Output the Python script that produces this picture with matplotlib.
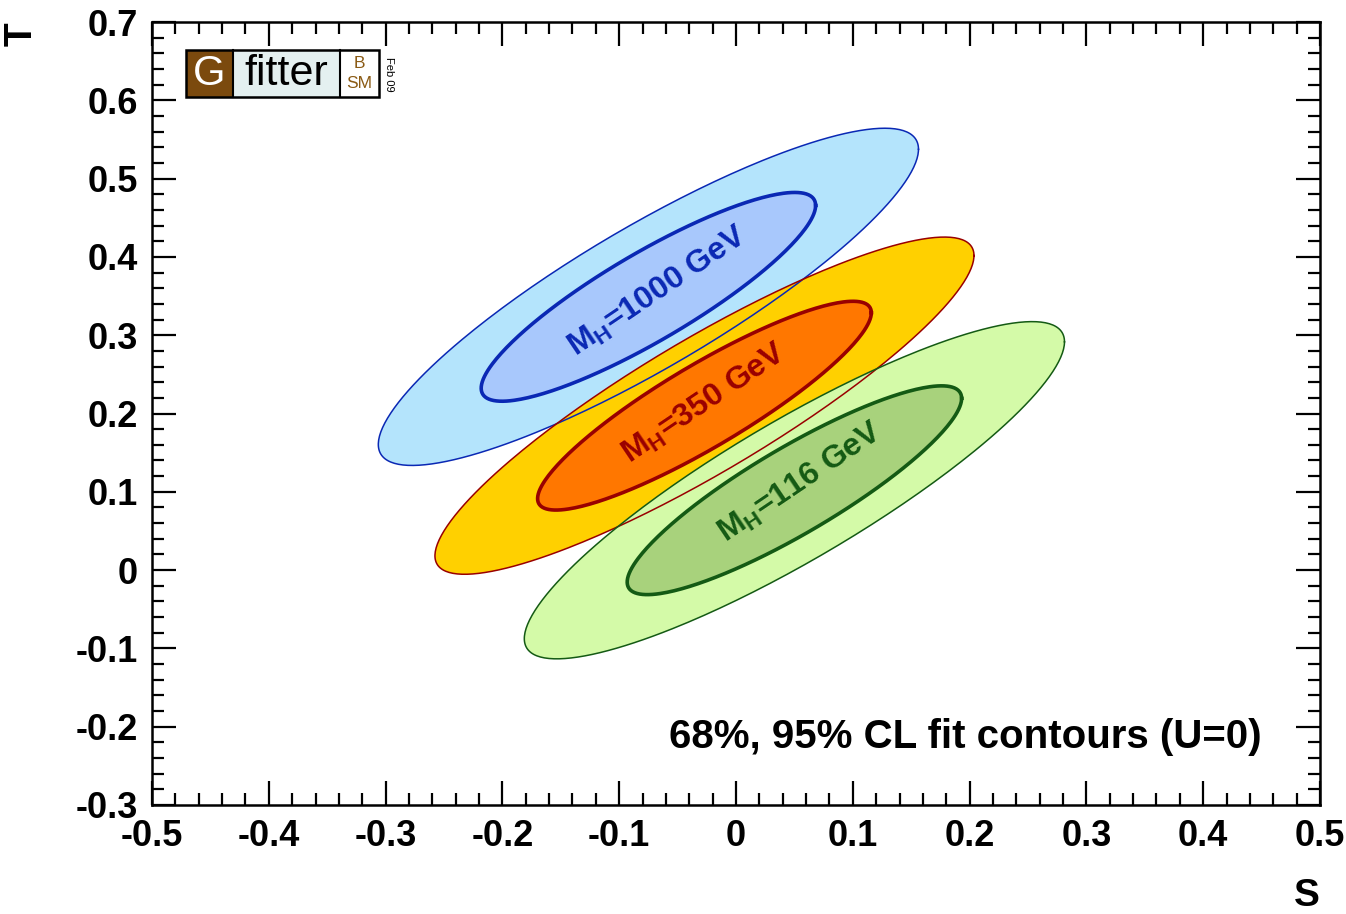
import numpy as np
import matplotlib
matplotlib.use("Agg")
import matplotlib.pyplot as plt
from matplotlib.patches import Rectangle
from matplotlib.ticker import MultipleLocator

plt.rcParams['font.family'] = ['Liberation Sans', 'DejaVu Sans']
plt.rcParams['mathtext.fontset'] = 'custom'
plt.rcParams['mathtext.rm'] = 'Liberation Sans:bold'
plt.rcParams['mathtext.bf'] = 'Liberation Sans:bold'

# fit results per Higgs mass (centre, widths, correlation of S and T)
mh_vals = [1000, 350, 116]
s_centre = [-0.075, -0.027, 0.050]
t_centre = [0.349, 0.210, 0.102]
sig_s = [0.0945, 0.0943, 0.0945]
sig_t = [0.0880, 0.0880, 0.0880]
rho = [0.875, 0.89, 0.88]

# chi2 quantiles, 2 dof, for 68% / 95% CL
cl_scale = [2.447, 1.515]

# label positions (S, T)
lab_s = [-0.067, -0.027, 0.055]
lab_t = [0.355, 0.212, 0.112]

outer_fill = ['#b4e4fc', '#ffd000', '#d4faa8']
inner_fill = ['#a8c8fc', '#ff7700', '#a8d27c']
edge_col = ['#0a28b4', '#990000', '#145a14']


def contour(i, k):
    t = np.linspace(0, 2 * np.pi, 300)
    x = s_centre[i] + k * sig_s[i] * np.cos(t)
    y = t_centre[i] + k * sig_t[i] * (rho[i] * np.cos(t) + np.sqrt(1 - rho[i] ** 2) * np.sin(t))
    return x, y


fig = plt.figure(figsize=(13.46, 9.14), dpi=100)
ax = fig.add_axes([152 / 1346, 1 - 805 / 914, 1168 / 1346, 783 / 914])

# fills first, outlines on top
for i in range(len(mh_vals)):
    x, y = contour(i, cl_scale[0])
    ax.fill(x, y, color=outer_fill[i], lw=0, zorder=1 + 2 * i)
    x, y = contour(i, cl_scale[1])
    ax.fill(x, y, color=inner_fill[i], lw=0, zorder=2 + 2 * i)
for i in range(len(mh_vals)):
    x, y = contour(i, cl_scale[0])
    ax.plot(x, y, color=edge_col[i], lw=1.1, zorder=10)
    x, y = contour(i, cl_scale[1])
    ax.plot(x, y, color=edge_col[i], lw=2.6, zorder=10)
    ax.text(lab_s[i], lab_t[i], r'$\mathbf{M}_{\mathrm{H}}$=%d GeV' % mh_vals[i],
            color=edge_col[i], fontsize=23, fontweight='bold', rotation=34,
            ha='center', va='center', rotation_mode='anchor', zorder=11)

ax.text(0.950, 0.087, '68%, 95% CL fit contours (U=0)', transform=ax.transAxes,
        fontsize=29, fontweight='bold', ha='right', va='center')

ax.set_xlim(-0.5, 0.5)
ax.set_ylim(-0.3, 0.7)
ax.xaxis.set_major_locator(MultipleLocator(0.1))
ax.xaxis.set_minor_locator(MultipleLocator(0.02))
ax.yaxis.set_major_locator(MultipleLocator(0.1))
ax.yaxis.set_minor_locator(MultipleLocator(0.02))
ax.xaxis.set_major_formatter(plt.FuncFormatter(lambda v, p: ('%g' % round(v, 2))))
ax.yaxis.set_major_formatter(plt.FuncFormatter(lambda v, p: ('%g' % round(v, 2))))
ax.tick_params(which='both', direction='in', top=True, right=True, width=1.6)
ax.tick_params(which='major', length=17, labelsize=26, pad=10)
ax.tick_params(which='minor', length=8.5)
for lab in ax.get_xticklabels() + ax.get_yticklabels():
    lab.set_fontweight('bold')
for sp in ax.spines.values():
    sp.set_linewidth(1.8)

ax.set_xlabel('S', loc='right', fontsize=28, fontweight='bold', labelpad=17)
ax.set_ylabel('T', loc='top', fontsize=28, fontweight='bold', labelpad=26)

# Gfitter logo
W, H = 1346, 914


def fx(px):
    return px / W


def fy(py):
    return 1 - py / H


fig.add_artist(Rectangle((fx(186), fy(97)), fx(233) - fx(186), fy(50) - fy(97),
                         transform=fig.transFigure, facecolor='#7b4a0e', edgecolor='none'))
fig.add_artist(Rectangle((fx(233), fy(97)), fx(340) - fx(233), fy(50) - fy(97),
                         transform=fig.transFigure, facecolor='#e4f0f0', edgecolor='none'))
fig.add_artist(Rectangle((fx(186), fy(97)), fx(379) - fx(186), fy(50) - fy(97),
                         transform=fig.transFigure, facecolor='none', edgecolor='black', lw=1.8))
fig.add_artist(plt.Line2D([fx(233), fx(233)], [fy(97), fy(50)], transform=fig.transFigure, color='black', lw=1.5))
fig.add_artist(plt.Line2D([fx(340), fx(340)], [fy(97), fy(50)], transform=fig.transFigure, color='black', lw=1.5))
fig.text(fx(209.5), fy(74), 'G', color='white', fontsize=30, ha='center', va='center')
fig.text(fx(286.5), fy(74), 'fitter', color='black', fontsize=31, ha='center', va='center')
fig.text(fx(359.5), fy(64), 'B', color='#8a5a14', fontsize=12.5, ha='center', va='center')
fig.text(fx(359.5), fy(84), 'SM', color='#8a5a14', fontsize=12.5, ha='center', va='center')
fig.text(fx(389), fy(74), 'Feb 09', color='black', fontsize=8, rotation=-90, ha='center', va='center')

fig.savefig('out.png', dpi=100)
